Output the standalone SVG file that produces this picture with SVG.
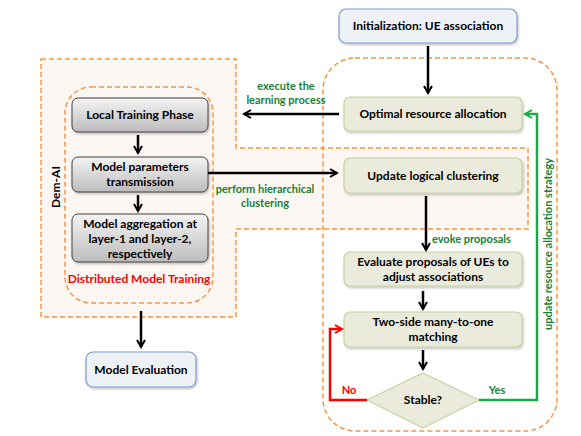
<svg xmlns="http://www.w3.org/2000/svg" width="581" height="436" viewBox="0 0 581 436">
<defs>
<linearGradient id="gg" x1="0" y1="0" x2="0" y2="1">
<stop offset="0" stop-color="#f4f4f4"/>
<stop offset="1" stop-color="#bcbcbc"/>
</linearGradient>
<marker id="ab" viewBox="0 0 10 10" refX="8" refY="5" markerWidth="4" markerHeight="4" orient="auto" markerUnits="strokeWidth">
<path d="M1,1 L8,5 L1,9" fill="none" stroke="#000" stroke-width="2"/>
</marker>
<marker id="ag" viewBox="0 0 10 10" refX="8" refY="5" markerWidth="4" markerHeight="4" orient="auto" markerUnits="strokeWidth">
<path d="M1,1 L8,5 L1,9" fill="none" stroke="#1fa64a" stroke-width="2"/>
</marker>
<marker id="ar" viewBox="0 0 10 10" refX="8" refY="5" markerWidth="4" markerHeight="4" orient="auto" markerUnits="strokeWidth">
<path d="M1,1 L8,5 L1,9" fill="none" stroke="#f00" stroke-width="2"/>
</marker>
<filter id="sh" x="-10%" y="-10%" width="120%" height="130%">
<feDropShadow dx="1" dy="1.5" stdDeviation="1" flood-color="#000" flood-opacity="0.25"/>
</filter>
</defs>
<style>
.t{font-family:Lato,"Liberation Sans",sans-serif;font-weight:bold;font-size:12px;fill:#000;text-anchor:middle}
.g{font-family:Lato,"Liberation Sans",sans-serif;font-weight:bold;font-size:11px;fill:#1a7f37;text-anchor:middle}
.gray{fill:url(#gg);stroke:#404040;stroke-width:1}
.grn{fill:#ebebdd;stroke:#c3d69b;stroke-width:1.2}
.blu{fill:#eef1f6;stroke:#7b9ccb;stroke-width:1.2}
.dash{fill:none;stroke:#f79646;stroke-width:1.5;stroke-dasharray:5,3}
.bl{fill:none;stroke:#000;stroke-width:2.5;marker-end:url(#ab)}
</style>
<rect width="581" height="436" fill="#fff"/>
<g id="dem-ai-region">
<path d="M41,59 H236 V148 H528 V229 H236 V317 H41 Z" fill="#fdf7f3" stroke="#f79646" stroke-width="1.5" stroke-dasharray="5,3"/>
<text class="t" transform="translate(60,187) rotate(-90)" font-size="14">Dem-AI</text>
</g>
<g id="matching-region">
<rect class="dash" x="323" y="58" width="234" height="373" rx="32"/>
</g>
<g id="distributed-training">
<rect class="dash" x="65" y="87" width="148" height="216" rx="26"/>
<text class="t" x="139" y="283" style="fill:#ff0000" font-size="11">Distributed Model Training</text>
</g>
<g id="local-training">
<rect class="gray" x="72" y="98" width="136" height="34" rx="6" filter="url(#sh)"/>
<text class="t" x="140" y="119">Local Training Phase</text>
</g>
<g id="model-params">
<rect class="gray" x="72" y="157" width="136" height="35" rx="6" filter="url(#sh)"/>
<text class="t" x="140" y="171">Model parameters</text>
<text class="t" x="140" y="186">transmission</text>
</g>
<g id="model-aggregation">
<rect class="gray" x="72" y="214" width="136" height="48" rx="6" filter="url(#sh)"/>
<text class="t" x="140" y="228">Model aggregation at</text>
<text class="t" x="140" y="243">layer-1 and layer-2,</text>
<text class="t" x="140" y="258">respectively</text>
</g>
<g id="model-evaluation">
<rect class="blu" x="86" y="352" width="110" height="35" rx="7" filter="url(#sh)"/>
<text class="t" x="141" y="374">Model Evaluation</text>
</g>
<g id="initialization">
<rect class="blu" x="339" y="9" width="178" height="34" rx="7" filter="url(#sh)"/>
<text class="t" x="428" y="30">Initialization: UE association</text>
</g>
<g id="optimal-resource">
<rect class="grn" x="344" y="97" width="178" height="34" rx="6" filter="url(#sh)"/>
<text class="t" x="433" y="118">Optimal resource allocation</text>
</g>
<g id="update-clustering">
<rect class="grn" x="344" y="158" width="178" height="35" rx="6" filter="url(#sh)"/>
<text class="t" x="433" y="180">Update logical clustering</text>
</g>
<g id="evaluate-proposals">
<rect class="grn" x="344" y="252" width="178" height="34" rx="6" filter="url(#sh)"/>
<text class="t" x="433" y="266">Evaluate proposals of UEs to</text>
<text class="t" x="433" y="281">adjust associations</text>
</g>
<g id="two-side-matching">
<rect class="grn" x="344" y="312" width="178" height="35" rx="6" filter="url(#sh)"/>
<text class="t" x="433" y="326">Two-side many-to-one</text>
<text class="t" x="433" y="341">matching</text>
</g>
<g id="stable">
<path d="M423,373 L479,400 L423,428 L367,400 Z" fill="#ebebdd" stroke="#c3d69b" stroke-width="1.2"/>
<text class="t" x="423" y="404">Stable?</text>
</g>
<g id="connectors">
<line class="bl" x1="428" y1="46" x2="428" y2="93"/>
<line class="bl" x1="339" y1="114" x2="244" y2="114"/>
<line class="bl" x1="208" y1="173" x2="337" y2="173"/>
<line class="bl" x1="426" y1="196" x2="426" y2="250"/>
<line class="bl" x1="423" y1="291" x2="423" y2="309"/>
<line class="bl" x1="423" y1="350" x2="423" y2="369"/>
<line class="bl" x1="138" y1="135" x2="138" y2="153"/>
<line class="bl" x1="138" y1="195" x2="138" y2="211"/>
<line class="bl" x1="141" y1="311" x2="141" y2="347"/>
<polyline points="367,400 330,400 330,329 342,329" fill="none" stroke="#ff0000" stroke-width="2.5" marker-end="url(#ar)"/>
<polyline points="479,400 537,400 537,114 525,114" fill="none" stroke="#1fa64a" stroke-width="2.5" marker-end="url(#ag)"/>
<text class="g" x="286" y="90">execute the</text>
<text class="g" x="286" y="104">learning process</text>
<text class="g" x="265" y="193">perform hierarchical</text>
<text class="g" x="265" y="207">clustering</text>
<text class="g" x="432" y="243" style="text-anchor:start">evoke proposals</text>
<text class="g" x="349" y="394" style="fill:#ff0000">No</text>
<text class="g" x="497" y="394">Yes</text>
<text class="g" transform="translate(552,244) rotate(-90)">update resource allocation strategy</text>
</g>
</svg>
